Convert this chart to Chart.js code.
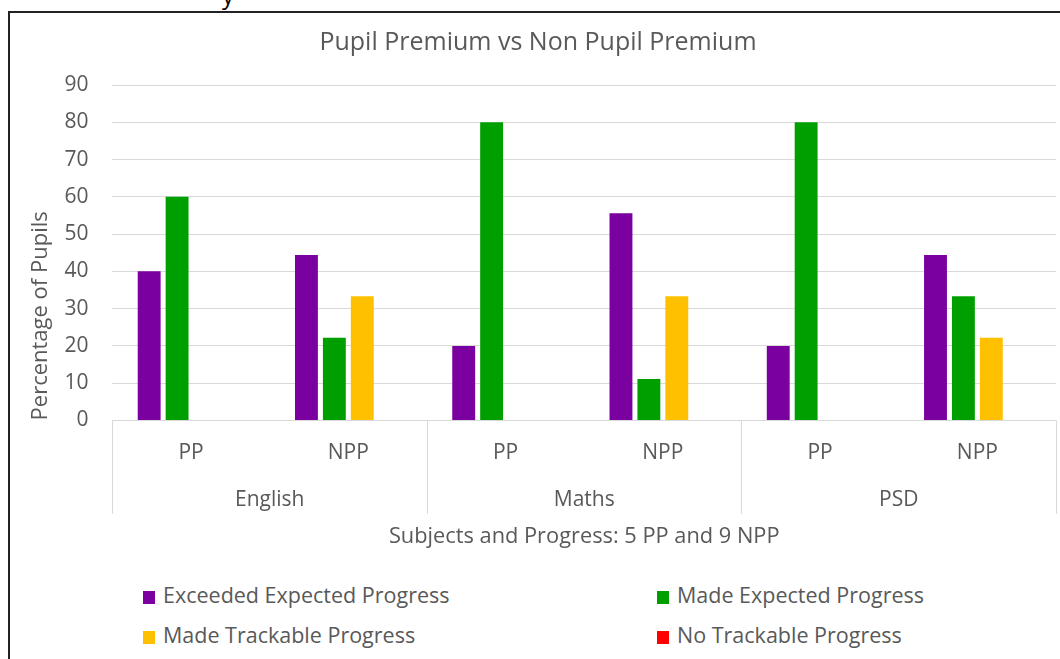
<!DOCTYPE html>
<html lang="en">
<head>
  <meta charset="UTF-8" />
  <title>Pupil Premium vs Non Pupil Premium</title>
  <script src="https://cdn.jsdelivr.net/npm/chart.js"></script>
  <style>
    body {
      margin: 0;
      background: #fff;
      font-family: "Open Sans", sans-serif;
      overflow: hidden;
    }
    .cut {
      position: absolute;
      left: 222px;
      top: -22px;
      font-size: 24px;
      color: #000;
    }
    .frame {
      position: absolute;
      left: 8px;
      top: 11px;
      width: 1060px;
      height: 660px;
      border-left: 2px solid #222;
      border-top: 2px solid #222;
    }
    #wrap {
      position: absolute;
      left: 10px;
      top: 13px;
      width: 1047px;
      height: 545px;
    }
    #legend {
      position: absolute;
      left: 143px;
      top: 580px;
      display: grid;
      grid-template-columns: 514px 360px;
      row-gap: 11px;
      color: #595959;
      font-size: 21.5px;
      line-height: 29px;
    }
    #legend span.box {
      display: inline-block;
      width: 12px;
      height: 13px;
      margin-right: 8px;
      vertical-align: -1px;
    }
  </style>
</head>
<body>
  <div class="cut">y</div>
  <div class="frame"></div>
  <div id="wrap"><canvas id="chart"></canvas></div>
  <div id="legend"></div>

  <script>
    const groups = ['English', 'Maths', 'PSD'];
    const pupils = ['PP', 'NPP', 'PP', 'NPP', 'PP', 'NPP'];
    const yTicks = [0, 10, 20, 30, 40, 50, 60, 70, 80, 90];

    const seriesNames = ['Exceeded Expected Progress', 'Made Expected Progress', 'Made Trackable Progress', 'No Trackable Progress'];
    const seriesColors = ['#7a00a0', '#009f00', '#ffc000', '#ff0000'];

    const exceeded = [40, 44.4, 20, 55.6, 20, 44.4];
    const expected = [60, 22.2, 80, 11.1, 80, 33.3];
    const trackable = [0, 33.3, 0, 33.3, 0, 22.2];
    const noTrack = [0, 0, 0, 0, 0, 0];

    const values = [exceeded, expected, trackable, noTrack];
    const lineColor = '#d9d9d9';
    const textColor = '#595959';

    // html legend laid out as 2 x 2 like the original
    const legend = document.getElementById('legend');
    legend.innerHTML = seriesNames.map((n, i) =>
      `<div><span class="box" style="background:${seriesColors[i]}"></span>${n}</div>`).join('');

    // vertical separators between subject groups, below the plot
    const groupDividers = {
      id: 'groupDividers',
      afterDraw(chart) {
        const g = chart.scales.group;
        const area = chart.chartArea;
        const t = g.options.title;
        const titleH = t.font.size * 1.2 + t.padding.top + t.padding.bottom;
        const step = (g.right - g.left) / groups.length;
        const c = chart.ctx;
        c.save();
        c.strokeStyle = lineColor;
        c.lineWidth = 1;
        for (let i = 0; i <= groups.length; i++) {
          const x = Math.round(g.left + i * step) + 0.5;
          c.beginPath();
          c.moveTo(x, area.bottom);
          c.lineTo(x, g.bottom - titleH);
          c.stroke();
        }
        c.restore();
      }
    };

    const ctx = document.getElementById('chart').getContext('2d');
    new Chart(ctx, {
      type: 'bar',
      data: {
        labels: pupils,
        datasets: seriesNames.map((n, i) => ({
          label: n,
          data: values[i],
          backgroundColor: seriesColors[i],
          categoryPercentage: 0.71,
          barPercentage: 0.82,
          xAxisID: 'x'
        }))
      },
      options: {
        responsive: true,
        maintainAspectRatio: false,
        animation: false,
        layout: { padding: { left: 10, right: 1, top: 0, bottom: 4 } },
        plugins: {
          legend: { display: false },
          tooltip: { enabled: false },
          title: {
            display: true,
            text: 'Pupil Premium vs Non Pupil Premium',
            color: textColor,
            font: { family: 'Open Sans', size: 25, weight: 'normal' },
            padding: { top: 15, bottom: 27 }
          }
        },
        scales: {
          x: {
            type: 'category',
            position: 'bottom',
            weight: 0,
            labels: pupils,
            border: { display: false },
            grid: { display: false },
            ticks: {
              color: textColor,
              padding: 12,
              maxRotation: 0,
              autoSkip: false,
              font: { family: 'Open Sans', size: 21 }
            }
          },
          group: {
            type: 'category',
            position: 'bottom',
            weight: 1,
            labels: groups,
            offset: true,
            border: { display: false },
            grid: { display: false },
            ticks: {
              color: textColor,
              padding: 1.5,
              maxRotation: 0,
              autoSkip: false,
              font: { family: 'Open Sans', size: 21 }
            },
            title: {
              display: true,
              text: 'Subjects and Progress: 5 PP and 9 NPP',
              color: textColor,
              font: { family: 'Open Sans', size: 21.8 },
              padding: { top: 10, bottom: 4 }
            }
          },
          y: {
            min: 0,
            max: 90,
            afterBuildTicks: scale => { scale.ticks = yTicks.map(v => ({ value: v })); },
            border: { display: false },
            grid: { color: lineColor, drawTicks: false },
            ticks: {
              color: textColor,
              padding: 24,
              font: { family: 'Open Sans', size: 21 }
            },
            title: {
              display: true,
              align: 'start',
              text: 'Percentage of Pupils',
              color: textColor,
              font: { family: 'Open Sans', size: 22 },
              padding: { top: 8, bottom: -14 }
            }
          }
        }
      },
      plugins: [groupDividers]
    });
  </script>
</body>
</html>
